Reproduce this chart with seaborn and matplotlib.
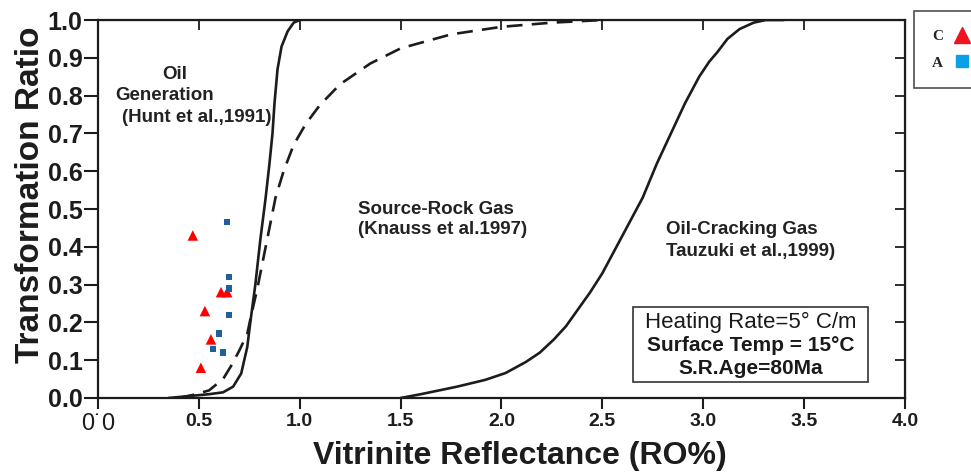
import matplotlib
matplotlib.use("Agg")
import matplotlib.pyplot as plt
import seaborn as sns
from matplotlib.lines import Line2D
from matplotlib.patches import Rectangle

# curves (vitrinite reflectance, transformation ratio)
hunt_x = [0.35, 0.45, 0.55, 0.62, 0.67, 0.71, 0.74, 0.755, 0.78, 0.805, 0.83, 0.85,
          0.865, 0.875, 0.89, 0.91, 0.94, 0.97, 1.0]
hunt_y = [0.0, 0.005, 0.01, 0.015, 0.03, 0.065, 0.135, 0.2, 0.3, 0.42, 0.525, 0.62,
          0.70, 0.78, 0.87, 0.93, 0.97, 0.993, 1.0]

knauss_x = [0.40, 0.47, 0.55, 0.62, 0.66, 0.70, 0.74, 0.76, 0.79, 0.82, 0.85, 0.88,
            0.92, 0.97, 1.03, 1.10, 1.20, 1.35, 1.50, 1.75, 2.0, 2.25, 2.5]
knauss_y = [0.0, 0.008, 0.02, 0.05, 0.085, 0.125, 0.17, 0.22, 0.29, 0.37, 0.45, 0.53,
            0.60, 0.67, 0.725, 0.775, 0.83, 0.885, 0.925, 0.962, 0.982, 0.993, 1.0]

tauzuki_x = [1.5, 1.6, 1.78, 1.92, 2.02, 2.12, 2.19, 2.26, 2.32, 2.38, 2.44, 2.50,
             2.57, 2.64, 2.70, 2.77, 2.84, 2.91, 2.98, 3.03, 3.07, 3.12, 3.18, 3.25,
             3.31, 3.4]
tauzuki_y = [0.0, 0.01, 0.03, 0.048, 0.066, 0.095, 0.12, 0.155, 0.19, 0.235, 0.28, 0.33,
             0.40, 0.47, 0.53, 0.62, 0.70, 0.78, 0.85, 0.89, 0.915, 0.95, 0.976, 0.993,
             1.0, 1.0]

# samples
c_x = [0.47, 0.61, 0.64, 0.53, 0.56, 0.51]
c_y = [0.43, 0.28, 0.28, 0.23, 0.155, 0.08]
a_x = [0.64, 0.65, 0.65, 0.65, 0.60, 0.57, 0.62]
a_y = [0.465, 0.32, 0.29, 0.22, 0.17, 0.13, 0.12]

x_ticks = [0.0, 0.5, 1.0, 1.5, 2.0, 2.5, 3.0, 3.5, 4.0]
x_tick_labels = ["0˙0", "0.5", "1.0", "1.5", "2.0", "2.5", "3.0", "3.5", "4.0"]
y_ticks = [0.0, 0.1, 0.2, 0.3, 0.4, 0.5, 0.6, 0.7, 0.8, 0.9, 1.0]
y_tick_labels = ["0.0", "0.1", "0.2", "0.3", "0.4", "0.5", "0.6", "0.7", "0.8", "0.9", "1.0"]

sns.set_style("ticks")
plt.rcParams["font.family"] = ["Liberation Sans", "DejaVu Sans"]

fig = plt.figure(figsize=(9.71, 4.72), dpi=100)
ax = fig.add_axes([0.1009, 0.1568, 0.8311, 0.8008])

ink = "#1c1c1c"
sns.lineplot(x=hunt_x, y=hunt_y, ax=ax, color=ink, lw=1.9, sort=False)
sns.lineplot(x=knauss_x, y=knauss_y, ax=ax, color=ink, lw=1.9, sort=False,
             linestyle=(0, (6, 3.5)))
sns.lineplot(x=tauzuki_x, y=tauzuki_y, ax=ax, color=ink, lw=1.9, sort=False)

sns.scatterplot(x=c_x, y=c_y, ax=ax, marker="^", color="#ff0000", s=58,
                edgecolor="none", zorder=3)
sns.scatterplot(x=a_x, y=a_y, ax=ax, marker="s", color="#1f5f9e", s=22,
                edgecolor="none", zorder=3)

ax.set_xlim(0, 4.0)
ax.set_ylim(0, 1.0)
ax.set_xticks(x_ticks)
ax.set_xticklabels(x_tick_labels, fontsize=14, fontweight="bold", color=ink)
ax.set_yticks(y_ticks)
ax.set_yticklabels(y_tick_labels, fontsize=18, fontweight="bold", color=ink)
first = ax.get_xticklabels()[0]
first.set_fontweight("normal")
first.set_fontsize(17)
first.set_color("#444444")

ax.tick_params(axis="x", direction="out", length=8, width=1.5, pad=3, colors=ink)
ax.tick_params(axis="y", direction="out", length=10, width=1.5, pad=1, colors=ink)
for sp in ax.spines.values():
    sp.set_linewidth(1.6)
    sp.set_color(ink)

# inward ticks on top and right
top = ax.secondary_xaxis("top")
top.set_xticks(x_ticks)
top.set_xticklabels([])
top.tick_params(direction="in", length=7, width=1.3, colors=ink)
right = ax.secondary_yaxis("right")
right.set_yticks(y_ticks)
right.set_yticklabels([])
right.tick_params(direction="in", length=7, width=1.3, colors=ink)

ax.set_xlabel("Vitrinite Reflectance (RO%)", fontsize=23, fontweight="bold", color=ink)
ax.set_ylabel("Transformation Ratio", fontsize=24, fontweight="bold", color=ink)
ax.xaxis.set_label_coords(0.523, -0.115)
ax.yaxis.set_label_coords(-0.064, 0.537)

txt = dict(fontsize=13.5, fontweight="bold", color="#222222")
ax.text(0.38, 0.857, "Oil", ha="center", va="center", **txt)
ax.text(0.33, 0.80, "Generation", ha="center", va="center", **txt)
ax.text(0.49, 0.743, "(Hunt et al.,1991)", ha="center", va="center", **txt)
ax.text(1.29, 0.50, "Source-Rock Gas", ha="left", va="center", **txt)
ax.text(1.29, 0.445, "(Knauss et al.1997)", ha="left", va="center", **txt)
ax.text(2.815, 0.445, "Oil-Cracking Gas", ha="left", va="center", **txt)
ax.text(2.815, 0.387, "Tauzuki et al.,1999)", ha="left", va="center", **txt)

# info box
ax.add_patch(Rectangle((0.663, 0.042), 0.291, 0.198, transform=ax.transAxes,
                       facecolor="white", edgecolor="#333333", linewidth=1.2, zorder=4))
ax.text(3.235, 0.200, "Heating Rate=5° C/m", ha="center", va="center",
        fontsize=16, color="#1a1a1a", zorder=5)
ax.text(3.235, 0.139, "Surface Temp = 15°C", ha="center", va="center",
        fontsize=15, fontweight="bold", color="#1a1a1a", zorder=5)
ax.text(3.235, 0.078, "S.R.Age=80Ma", ha="center", va="center",
        fontsize=15, fontweight="bold", color="#1a1a1a", zorder=5)

handles = [
    Line2D([], [], linestyle="none", marker="^", color="#f0141e", markersize=11),
    Line2D([], [], linestyle="none", marker="s", color="#0aa0e6", markersize=9),
]
fig.legend(handles, ["C", "A"], loc="upper left",
           bbox_to_anchor=(914 / 971, 1 - 11 / 472), borderaxespad=0,
           markerfirst=False, frameon=True, fancybox=False, edgecolor="#222222",
           prop={"family": ["Liberation Serif", "DejaVu Serif"], "weight": "bold", "size": 11},
           handlelength=1.2, handletextpad=0.6, labelspacing=0.85, borderpad=1.2)
fig.legends[0].get_frame().set_linewidth(1.2)

fig.savefig("out.png", dpi=100)
